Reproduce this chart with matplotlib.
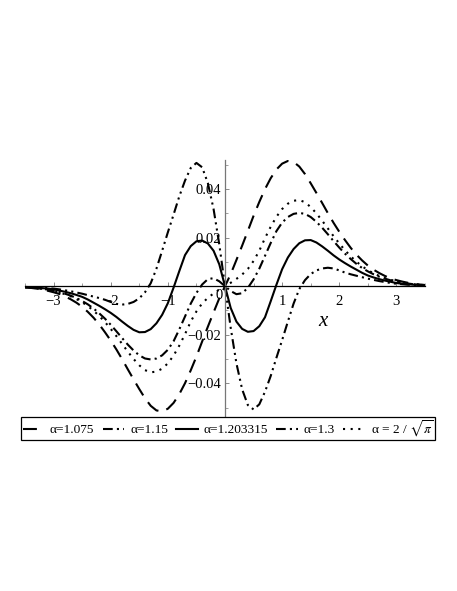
import numpy as np
import matplotlib
matplotlib.use("Agg")
import matplotlib.pyplot as plt

plt.rcParams['font.family'] = ['Liberation Serif', 'DejaVu Serif']
plt.rcParams['mathtext.fontset'] = 'stix'
plt.rcParams['axes.unicode_minus'] = True
plt.rcParams['lines.scale_dashes'] = False

# sample points along x (-3.5 .. 3.5 step 0.1)
x = np.round(np.linspace(-3.5, 3.5, 71), 1)

# alpha = 1.075 (long dash)
y_1075 = [-0.0005, -0.0007, -0.0010, -0.0014, -0.0019, -0.0025, -0.0032, -0.0042, -0.0054, -0.0068,
          -0.0085, -0.0106, -0.0130, -0.0158, -0.0190, -0.0224, -0.0261, -0.0301, -0.0343, -0.0384,
          -0.0424, -0.0462, -0.0493, -0.0512, -0.0516, -0.0505, -0.0481, -0.0445, -0.0400, -0.0347,
          -0.0290, -0.0228, -0.0167, -0.0108, -0.0050,
          0.0,
          0.0050, 0.0108, 0.0167, 0.0228, 0.0290, 0.0347, 0.0400, 0.0445, 0.0481, 0.0505,
          0.0516, 0.0512, 0.0493, 0.0462, 0.0424, 0.0384, 0.0343, 0.0301, 0.0261, 0.0224,
          0.0190, 0.0158, 0.0130, 0.0106, 0.0085, 0.0068, 0.0054, 0.0042, 0.0032, 0.0025,
          0.0019, 0.0014, 0.0010, 0.0007, 0.0005]

# alpha = 1.15 (dash dot)
y_115 = [-0.0004, -0.0006, -0.0008, -0.0011, -0.0014, -0.0019, -0.0024, -0.0031, -0.0039, -0.0049,
         -0.0061, -0.0075, -0.0092, -0.0112, -0.0134, -0.0159, -0.0186, -0.0214, -0.0241, -0.0265,
         -0.0285, -0.0298, -0.0302, -0.0298, -0.0285, -0.0262, -0.0227, -0.0178, -0.0125, -0.0072,
         -0.0028, 0.0007, 0.0029, 0.0033, 0.0020,
         0.0,
         -0.0020, -0.0033, -0.0029, -0.0007, 0.0028, 0.0072, 0.0125, 0.0178, 0.0227, 0.0262,
         0.0285, 0.0298, 0.0302, 0.0298, 0.0285, 0.0265, 0.0241, 0.0214, 0.0186, 0.0159,
         0.0134, 0.0112, 0.0092, 0.0075, 0.0061, 0.0049, 0.0039, 0.0031, 0.0024, 0.0019,
         0.0014, 0.0011, 0.0008, 0.0006, 0.0004]

# alpha = 1.203315 (solid)
y_1203 = [-0.0004, -0.0005, -0.0006, -0.0008, -0.0010, -0.0013, -0.0018, -0.0023, -0.0029, -0.0036,
          -0.0044, -0.0055, -0.0068, -0.0081, -0.0095, -0.0110, -0.0127, -0.0146, -0.0164, -0.0180,
          -0.0190, -0.0189, -0.0177, -0.0153, -0.0118, -0.0070, -0.0006, 0.0062, 0.0128, 0.0165,
          0.0185, 0.0188, 0.0176, 0.0146, 0.0090,
          0.0,
          -0.0090, -0.0146, -0.0176, -0.0188, -0.0185, -0.0165, -0.0128, -0.0062, 0.0006, 0.0070,
          0.0118, 0.0153, 0.0177, 0.0189, 0.0190, 0.0180, 0.0164, 0.0146, 0.0127, 0.0110,
          0.0095, 0.0081, 0.0068, 0.0055, 0.0044, 0.0036, 0.0029, 0.0023, 0.0018, 0.0013,
          0.0010, 0.0008, 0.0006, 0.0005, 0.0004]

# alpha = 1.3 (dash dot dot)
y_13 = [-0.0003, -0.0004, -0.0005, -0.0006, -0.0008, -0.0010, -0.0013, -0.0017, -0.0021, -0.0026,
        -0.0031, -0.0037, -0.0043, -0.0049, -0.0056, -0.0065, -0.0073, -0.0076, -0.0073, -0.0065,
        -0.0050, -0.0025, 0.0012, 0.0072, 0.0146, 0.0222, 0.0295, 0.0370, 0.0435, 0.0487,
        0.0508, 0.0490, 0.0425, 0.0318, 0.0172,
        0.0,
        -0.0172, -0.0318, -0.0425, -0.0490, -0.0508, -0.0487, -0.0435, -0.0370, -0.0295, -0.0222,
        -0.0146, -0.0072, -0.0012, 0.0025, 0.0050, 0.0065, 0.0073, 0.0076, 0.0073, 0.0065,
        0.0056, 0.0049, 0.0043, 0.0037, 0.0031, 0.0026, 0.0021, 0.0017, 0.0013, 0.0010,
        0.0008, 0.0006, 0.0005, 0.0004, 0.0003]

# alpha = 2/sqrt(pi) (dotted)
y_2sqpi = [-0.0004, -0.0006, -0.0008, -0.0011, -0.0015, -0.0020, -0.0026, -0.0033, -0.0042, -0.0053,
           -0.0066, -0.0082, -0.0101, -0.0123, -0.0148, -0.0176, -0.0206, -0.0238, -0.0270, -0.0300,
           -0.0326, -0.0346, -0.0355, -0.0352, -0.0340, -0.0318, -0.0286, -0.0245, -0.0198, -0.0146,
           -0.0104, -0.0071, -0.0048, -0.0030, -0.0014,
           0.0,
           0.0014, 0.0030, 0.0048, 0.0071, 0.0104, 0.0146, 0.0198, 0.0245, 0.0286, 0.0318,
           0.0340, 0.0352, 0.0355, 0.0346, 0.0326, 0.0300, 0.0270, 0.0238, 0.0206, 0.0176,
           0.0148, 0.0123, 0.0101, 0.0082, 0.0066, 0.0053, 0.0042, 0.0033, 0.0026, 0.0020,
           0.0015, 0.0011, 0.0008, 0.0006, 0.0004]

labels = ['α=1.075', 'α=1.15', 'α=1.203315', 'α=1.3', r'α = 2 / $\sqrt{\pi}$']
xtick_vals = [-3, -2, -1, 1, 2, 3]
ytick_vals = [-0.04, -0.02, 0.02, 0.04]

fig = plt.figure(figsize=(4.57, 5.91), dpi=100)
ax = fig.add_axes([25 / 457, 1 - 416 / 591, 400 / 457, 256 / 591])

lw = 1.5
ax.plot(x, y_1075, color='black', lw=lw, linestyle=(0, (10, 6)), label=labels[0])
ax.plot(x, y_115, color='black', lw=lw, linestyle=(0, (7, 3, 1.5, 3)), label=labels[1])
ax.plot(x, y_1203, color='black', lw=lw, linestyle='-', label=labels[2])
ax.plot(x, y_13, color='black', lw=lw, linestyle=(0, (7, 3, 1.5, 3, 1.5, 3)), label=labels[3])
ax.plot(x, y_2sqpi, color='black', lw=lw, linestyle=(0, (1.5, 4)), label=labels[4])

ax.set_xlim(-3.5, 3.5)
ax.set_ylim(-0.0535, 0.052)

# axes through origin
for s in ['top', 'right']:
    ax.spines[s].set_visible(False)
ax.spines['left'].set_position(('data', 0))
ax.spines['bottom'].set_position(('data', 0))
ax.spines['bottom'].set_color('black')
ax.spines['bottom'].set_linewidth(0.9)
ax.spines['left'].set_color('#777777')
ax.spines['left'].set_linewidth(0.9)

ax.set_xticks(xtick_vals)
ax.set_xticklabels([str(v).replace('-', '\u2212') for v in xtick_vals])
ax.set_xticks(np.arange(-3.5, 3.6, 0.5), minor=True)
ax.set_yticks(ytick_vals)
ax.set_yticklabels([f'{v:.2f}'.replace('-', '\u2212') for v in ytick_vals])
ax.set_yticks([-0.05, -0.03, -0.01, 0.01, 0.03, 0.05], minor=True)
ax.tick_params(axis='both', which='major', direction='in', length=3, width=0.6,
               color='#777777', labelsize=10.5, pad=3)
ax.tick_params(axis='both', which='minor', direction='in', length=2, width=0.5, color='#777777')
ax.tick_params(axis='x', which='major', pad=6)

ax.text(-0.1, -0.0012, '0', ha='center', va='top', fontsize=10.5)
ax.text(1.72, -0.0145, 'x', ha='center', va='center', fontsize=15, style='italic')

leg = fig.legend(loc='center', ncol=5, bbox_to_anchor=(228 / 457, 1 - 428.5 / 591),
                 fontsize=9.6, handlelength=1.6, handletextpad=0.45,
                 columnspacing=0.62, borderpad=0.12, borderaxespad=0, fancybox=False,
                 edgecolor='black', framealpha=1)
leg.get_frame().set_linewidth(0.9)

fig.savefig('out.png', dpi=100)
